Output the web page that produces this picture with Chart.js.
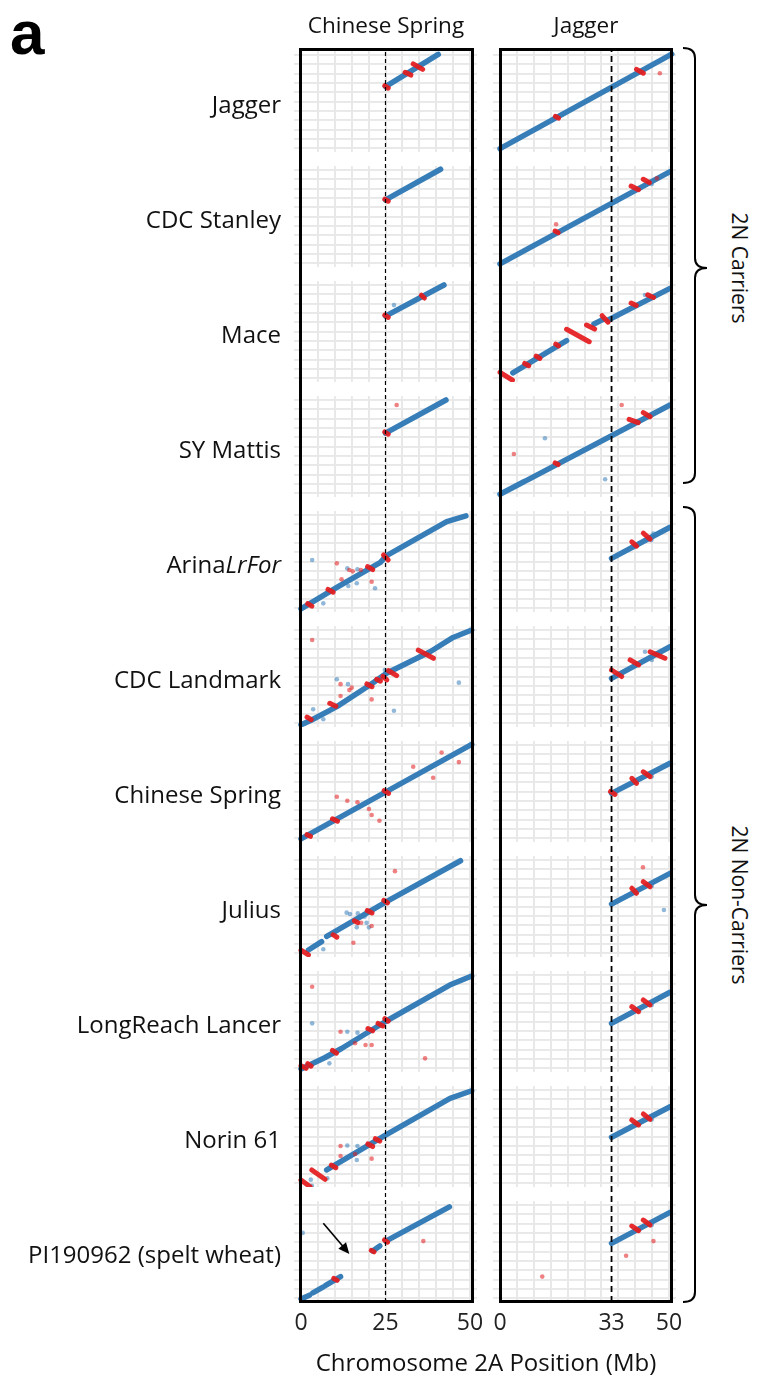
<!DOCTYPE html>
<html>
<head>
<meta charset="utf-8">
<script src="https://cdn.jsdelivr.net/npm/chart.js@4.4.1/dist/chart.umd.min.js"></script>
<style>
  body { margin: 0; background: #fff; }
  #wrap { position: relative; width: 760px; height: 1380px; overflow: hidden; font-family: 'Open Sans', sans-serif; color: #111; }
  canvas { position: absolute; }
  .txt { position: absolute; white-space: nowrap; font-size: 24px; line-height: 30px; }
  .frame { position: absolute; border: 3px solid #000; box-sizing: border-box; }
</style>
</head>
<body>
<div id="wrap"></div>
<script>
// rows of the dot plots (query genomes)
const varieties = ['Jagger', 'CDC Stanley', 'Mace', 'SY Mattis', 'Arina<i>LrFor</i>', 'CDC Landmark',
  'Chinese Spring', 'Julius', 'LongReach Lancer', 'Norin 61', 'PI190962 (spelt wheat)'];
const refNames = ['Chinese Spring', 'Jagger'];
const xTicks = [[0, 25, 50], [0, 33, 50]];
const refLine = [25, 33];

// Chinese Spring reference (left column), one entry per row
const csBlue = [
  [[[25, 33], [40.6, 50.3]]],
  [[[25, 33.9], [41.3, 50.4]]],
  [[[25, 33.3], [42.3, 50]]],
  [[[25, 32.2], [42.9, 50]]],
  [[[0, -0.5], [10.6, 11.1], [20.4, 21.3], [23.5, 24.5], [25.2, 28], [43.1, 46.4], [48.8, 49.5]]],
  [[[0, -1], [3, 1.5], [10.6, 8.8], [20.4, 20.4], [25.3, 26.7], [38.2, 38.3], [45, 46], [50.5, 50]]],
  [[[0, -0.5], [50.5, 50.3]]],
  [[[2.2, 1.6], [6.1, 6.1]], [[7.6, 9], [25.3, 27.6], [47.2, 49.6]]],
  [[[0, -0.5], [7, 5.5], [12, 10.5], [25, 25], [44, 44.6], [50.5, 49.5]]],
  [[[7.6, 7], [25, 25.8], [44.1, 45.5], [50.5, 49.6]]],
  [[[0, -0.5], [2.5, 1.5]], [[3.5, 2.8], [6.5, 5.8]], [[7.3, 6.8], [11.7, 11.5]], [[21.2, 25.3], [23.3, 28]], [[25.1, 30.6], [43.9, 49]]]
];
const csRed = [
  [[[24.8, 33.5], [25.8, 32.2]], [[30.8, 40.7], [32.5, 39.2]], [[33.2, 45.2], [36, 42.3]]],
  [[[24.8, 34.3], [25.8, 33.2]]],
  [[[24.8, 33.8], [25.8, 32.6]], [[35.6, 44.5], [36.5, 43]]],
  [[[24.8, 32.8], [25.8, 31.6]]],
  [[[2, 2.3], [3.2, 1]], [[8, 10], [9.5, 8.5]], [[19.7, 22.2], [21.2, 20.6]], [[24.4, 28.5], [25.8, 25.8]]],
  [[[1.8, 3.2], [3, 1.8]], [[8.5, 10.6], [10.3, 9]], [[19.5, 21], [21, 19.5]], [[22.4, 23.5], [23.5, 22.5]],
   [[24.2, 25], [25.4, 23.2]], [[25.9, 28.1], [28.3, 25.5]], [[34.7, 39.2], [39.2, 34.8]]],
  [[[1.8, 1.8], [2.8, 0.9]], [[9.3, 10.3], [10.8, 9]], [[24.6, 25.5], [25.9, 24]]],
  [[[0, 1.5], [2.2, -1]], [[9.5, 9.8], [10.6, 8.5]], [[15.8, 17.3], [16.8, 16.3]], [[19.6, 22.8], [21, 21.5]], [[24.5, 28.3], [25.6, 27]]],
  [[[0, 1.3], [1.5, -0.2]], [[2, 2.3], [3, 1]], [[9.3, 9.5], [10.5, 8]], [[19.8, 21.2], [21.2, 20]], [[22.8, 24], [24.2, 22.6]], [[24.8, 26.5], [25.8, 25.2]]],
  [[[0, 1.6], [2.7, -2]], [[3.2, 7], [7.1, 2]], [[9, 9.6], [10.3, 8.2]], [[19.8, 21], [21.2, 19.6]], [[22, 23.8], [23.3, 22.5]]],
  [[[9.7, 10.5], [10.7, 9.5]], [[20.8, 25.6], [21.6, 24.8]], [[24.7, 31.2], [25.6, 30]]]
];
const csBlueDots = [
  [], [], [[27.5, 39.2]], [],
  [[3.3, 25.8], [13.7, 21.3], [16.7, 20.8], [14, 11.8], [16.5, 13.3], [21.9, 10.6], [6.6, 2.5]],
  [[10.6, 23.5], [13.9, 20.9], [3.6, 7.4], [6.6, 2], [27.5, 6.6], [46.7, 21.7], [24.8, 28.5]],
  [],
  [[13.5, 21.7], [14.5, 21], [16.8, 21.3], [18.8, 19.5], [19.4, 16.3], [16.5, 13.8], [20.1, 13.8], [6.6, 2]],
  [[3.3, 24], [13.7, 19.5], [16.7, 19], [8.4, 2.5]],
  [[2.9, 1.8], [3.2, -1.5], [7.8, 2.5], [13.7, 20.2], [16.7, 19.9], [16.5, 12.4]],
  [[0.5, 35]]
];
const csRedDots = [
  [], [], [], [[28.3, 47.3]],
  [[10.6, 24], [12, 15.4], [14.3, 20.4], [15.3, 19.7], [17.7, 20.4], [20.9, 14.1]],
  [[3.3, 44.6], [11.7, 20.9], [14.3, 17.7], [11.7, 14.5], [20.9, 12.7], [15, 19]],
  [[10.6, 22.2], [13.7, 20], [16.7, 19.2], [20.1, 15.6], [20.9, 12.4], [23.2, 9.3], [33.2, 38.3], [39.1, 32.4], [41.6, 46], [46.7, 40.8]],
  [[27.8, 44], [15.5, 5.5], [17.8, 16.3], [20.9, 14.5]],
  [[3.3, 43.7], [11.7, 19.5], [16, 13.3], [19.1, 12.4], [20.9, 12.4], [36.7, 5.2]],
  [[11.7, 19.9], [11.7, 14.5], [16, 15.6], [20.9, 13.1]],
  [[36.2, 30.6]]
];

// Jagger reference (right column)
const jgBlue = [
  [[[0, -0.3], [50.8, 50.5]]],
  [[[0, -0.5], [50.3, 49.1]]],
  [[[3.8, 2.8], [19.7, 20.1]], [[27.8, 29], [30.5, 31.5]], [[32, 31.2], [50.3, 48.2]]],
  [[[0, -0.7], [7.2, 6.2]], [[7.9, 6.8], [50.3, 47.3]]],
  [[[33, 26.7], [50.3, 43.4]]],
  [[[33, 24], [50.3, 41]]],
  [[[33, 24], [50.3, 40.2]]],
  [[[33, 26.3], [50.3, 42.8]]],
  [[[33, 24], [50.3, 40.7]]],
  [[[33, 24.6], [50.3, 41]]],
  [[[33, 29.4], [50.3, 46]]]
];
const jgRed = [
  [[[40.4, 42.3], [42.4, 40.2]], [[16.4, 17], [17.3, 16]]],
  [[[38.8, 41.4], [41, 39.4]], [[42.4, 45], [44.2, 43.2]], [[16.3, 17.2], [17.2, 16.3]]],
  [[[0, 3], [3.7, -1.2]], [[7.3, 7.8], [8.5, 6.6]], [[10.7, 11.8], [11.8, 10.5]], [[16.5, 18.2], [17.3, 17.3]],
   [[19.7, 26.2], [26.4, 19.5]], [[25.6, 28.5], [28, 26.3]], [[30.2, 33.5], [32, 30]], [[38.8, 40.3], [40.3, 39]], [[43.7, 44.7], [45.4, 43.3]]],
  [[[38.2, 39.6], [40.9, 37.8]], [[42.4, 43.2], [44.4, 41]], [[16.3, 16.2], [17.2, 15.3]]],
  [[[39, 35.6], [40.4, 33.3]], [[42.4, 40.2], [44.4, 37]]],
  [[[33, 28.5], [36, 25]], [[38.5, 33.9], [41, 31.2]], [[44.4, 38.3], [48.8, 34.8]]],
  [[[32.7, 25], [34, 23.5]], [[39, 32.1], [40.4, 29.4]], [[42.4, 35.6], [44.4, 33]]],
  [[[39, 34.8], [40.4, 32.1]], [[42.4, 38.3], [44.4, 35.6]]],
  [[[39, 33], [41, 30.3]], [[42.4, 36.6], [44.4, 33.9]]],
  [[[39, 33.9], [41, 31.2]], [[42.4, 37.1], [44.4, 34.2]]],
  [[[39, 38.7], [41, 36.2]], [[42.4, 41.9], [44.4, 39.2]]]
];
const jgBlueDots = [
  [], [[44.9, 42.5]], [[42.9, 44.6]], [[13.3, 29.4], [31.1, 7.4], [44.8, 42]],
  [[44.8, 36.5], [45.4, 40]], [[42.9, 38.3], [44.9, 33.9]], [[44.9, 33]], [[48.5, 23.1], [44.9, 36]],
  [[44.9, 33.9]], [[44.9, 34.2]], [[44.9, 39.2]]
];
const jgRedDots = [
  [[47.3, 40.2]], [[16.6, 20.8], [46.4, 45.5]], [], [[36, 47.3], [4.1, 21]],
  [], [], [], [[42.3, 46.1]], [], [], [[45.4, 30.6], [37.3, 22.7], [12.5, 11.5]]
];

// arrow in the PI190962 / Chinese Spring panel (tail, head)
const arrowPts = [[6.6, 40.2], [14.3, 23.7]];

const BLUE = '#377eb8', RED = '#e41a1c';
const BLUE_DOT = 'rgba(55,126,184,0.55)', RED_DOT = 'rgba(228,26,28,0.55)';
const GRID = '#e8e8e8';

const colLeft = [301, 500], plotW = 169, plotH = 93, rowTop = 55, rowStep = 115;
const padX = 7, padY = 4;

const wrap = document.getElementById('wrap');

function addText(html, css) {
  const d = document.createElement('div');
  d.className = 'txt';
  d.innerHTML = html;
  Object.assign(d.style, css);
  wrap.appendChild(d);
  return d;
}

function segSets(list, color, width, order) {
  return list.map(s => ({
    data: s.map(p => ({ x: p[0], y: p[1] })),
    showLine: true, borderColor: color, borderWidth: width,
    borderCapStyle: 'round', borderJoinStyle: 'round',
    pointRadius: 0, order: order, clip: false
  }));
}

function dotSet(list, color, order) {
  return {
    data: list.map(p => ({ x: p[0], y: p[1] })),
    backgroundColor: color, borderWidth: 0, pointRadius: 2.3, order: order, clip: false
  };
}

function gridScale(pos, isX) {
  return {
    type: 'linear', min: 0, max: 50, position: pos,
    ticks: { display: false, stepSize: 5 },
    grid: { color: GRID, lineWidth: 1.8, drawTicks: true, tickLength: isX ? padY : padX, tickColor: GRID },
    border: { display: false },
    afterFit: s => { if (isX) s.height = padY; else s.width = padX; }
  };
}

const arrowPlugin = {
  id: 'arrow',
  afterDatasetsDraw(chart, args, opts) {
    if (!opts.pts) return;
    const { x, y } = chart.scales;
    const x1 = x.getPixelForValue(opts.pts[0][0]), y1 = y.getPixelForValue(opts.pts[0][1]);
    const x2 = x.getPixelForValue(opts.pts[1][0]), y2 = y.getPixelForValue(opts.pts[1][1]);
    const a = Math.atan2(y2 - y1, x2 - x1);
    const ctx = chart.ctx;
    ctx.save();
    ctx.strokeStyle = '#000'; ctx.fillStyle = '#000'; ctx.lineWidth = 1.6;
    ctx.beginPath();
    ctx.moveTo(x1, y1);
    ctx.lineTo(x2 - 8 * Math.cos(a), y2 - 8 * Math.sin(a));
    ctx.stroke();
    ctx.beginPath();
    ctx.moveTo(x2, y2);
    ctx.lineTo(x2 - 11 * Math.cos(a) + 5 * Math.sin(a), y2 - 11 * Math.sin(a) - 5 * Math.cos(a));
    ctx.lineTo(x2 - 11 * Math.cos(a) - 5 * Math.sin(a), y2 - 11 * Math.sin(a) + 5 * Math.cos(a));
    ctx.closePath();
    ctx.fill();
    ctx.restore();
  }
};

function panel(c, r, blue, red, bDots, rDots) {
  const cv = document.createElement('canvas');
  cv.width = plotW + 2 * padX;
  cv.height = plotH + 2 * padY;
  cv.style.left = (colLeft[c] - padX) + 'px';
  cv.style.top = (rowTop + r * rowStep - padY) + 'px';
  wrap.appendChild(cv);

  const datasets = [
    ...segSets(red, 'rgba(228,26,28,0.92)', 5, 1),
    dotSet(rDots, RED_DOT, 2),
    dotSet(bDots, BLUE_DOT, 3),
    ...segSets(blue, BLUE, 5.5, 4)
  ];

  new Chart(cv, {
    type: 'scatter',
    data: { datasets },
    options: {
      responsive: false, animation: false, events: [],
      layout: { padding: 0 },
      plugins: {
        legend: { display: false }, tooltip: { enabled: false },
        arrow: { pts: (c === 0 && r === 10) ? arrowPts : null }
      },
      scales: {
        x: gridScale('bottom', true),
        xt: gridScale('top', true),
        y: gridScale('left', false),
        yr: gridScale('right', false)
      }
    },
    plugins: [arrowPlugin]
  });
}

// panels
for (let r = 0; r < varieties.length; r++) {
  panel(0, r, csBlue[r], csRed[r], csBlueDots[r], csRedDots[r]);
  panel(1, r, jgBlue[r], jgRed[r], jgBlueDots[r], jgRedDots[r]);
}

// column overlay: dashed reference line + x tick labels
const frameTop = 48, frameBottom = 1303;
for (let c = 0; c < 2; c++) {
  const cv = document.createElement('canvas');
  const side = 30;
  cv.width = plotW + 2 * side;
  cv.height = 1300;
  cv.style.left = (colLeft[c] - side) + 'px';
  cv.style.top = (frameTop + 1) + 'px';
  wrap.appendChild(cv);
  new Chart(cv, {
    type: 'scatter',
    data: {
      datasets: [{
        data: [{ x: refLine[c], y: 0 }, { x: refLine[c], y: 1 }],
        showLine: true, borderColor: '#000',
        borderWidth: c === 0 ? 1.2 : 1.8, borderDash: c === 0 ? [4, 3] : [6, 4],
        pointRadius: 0
      }]
    },
    options: {
      responsive: false, animation: false, events: [],
      layout: { padding: { left: side, right: side, top: 1 } },
      plugins: { legend: { display: false }, tooltip: { enabled: false } },
      scales: {
        x: {
          type: 'linear', min: 0, max: 50, position: 'bottom',
          afterBuildTicks: s => { s.ticks = xTicks[c].map(v => ({ value: v })); },
          ticks: { font: { family: 'Open Sans', size: 23 }, color: '#222', padding: 0, maxRotation: 0, autoSkip: false },
          grid: { display: false }, border: { display: false },
          afterFit: s => { s.height = 47; }
        },
        y: { type: 'linear', min: 0, max: 1, display: false }
      }
    }
  });
}

// frames
[[299, 175], [499, 174]].forEach(f => {
  const d = document.createElement('div');
  d.className = 'frame';
  Object.assign(d.style, { left: f[0] + 'px', width: f[1] + 'px', top: frameTop + 'px', height: (frameBottom - frameTop) + 'px' });
  wrap.appendChild(d);
});

// labels
varieties.forEach((v, r) => {
  addText(v, { right: (760 - 281) + 'px', top: (104 + r * rowStep - 15) + 'px' });
});
addText(refNames[0], { left: '286px', width: '200px', textAlign: 'center', top: '10px', fontSize: '22.5px' });
addText(refNames[1], { left: '486px', width: '200px', textAlign: 'center', top: '10px', fontSize: '22.5px' });
addText('Chromosome 2A Position (Mb)', { left: '286px', width: '400px', textAlign: 'center', top: '1347px' });
addText('a', { left: '10px', top: '-2px', fontSize: '62px', lineHeight: '70px', fontWeight: 'bold', fontFamily: 'Liberation Sans, Arial, sans-serif', color: '#000' });
addText('2N Carriers', { left: '740px', top: '268px', fontSize: '21px', transform: 'translate(-50%,-50%) rotate(90deg)' });
addText('2N Non-Carriers', { left: '740px', top: '905px', fontSize: '21px', transform: 'translate(-50%,-50%) rotate(90deg)' });

// braces
const svgNS = 'http://www.w3.org/2000/svg';
const svg = document.createElementNS(svgNS, 'svg');
svg.setAttribute('width', 760); svg.setAttribute('height', 1380);
svg.style.position = 'absolute'; svg.style.left = '0'; svg.style.top = '0';
function brace(t, m, b) {
  const p = document.createElementNS(svgNS, 'path');
  p.setAttribute('d', `M683,${t} Q695,${t} 695,${t + 10} L695,${m - 10} Q695,${m} 707,${m} Q695,${m} 695,${m + 10} L695,${b - 10} Q695,${b} 683,${b}`);
  p.setAttribute('fill', 'none'); p.setAttribute('stroke', '#000'); p.setAttribute('stroke-width', '2');
  svg.appendChild(p);
}
brace(48, 268, 483);
brace(507, 905, 1302);
wrap.appendChild(svg);
</script>
</body>
</html>
